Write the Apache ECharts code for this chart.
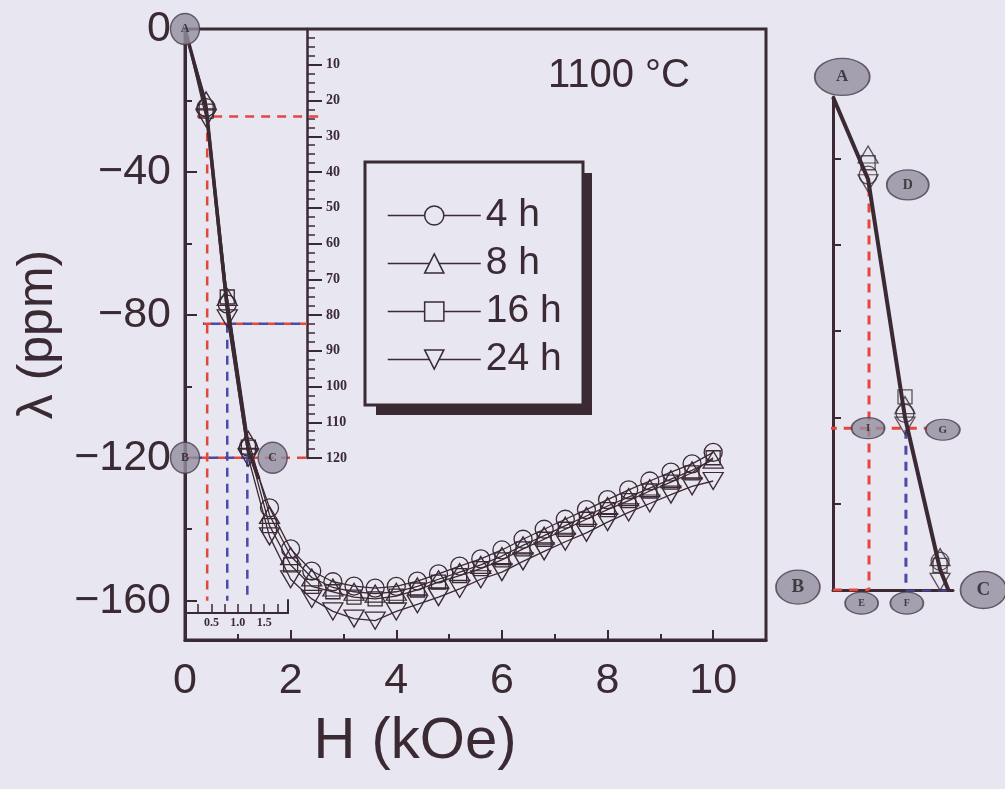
<!DOCTYPE html>
<html>
<head>
<meta charset="utf-8">
<script src="https://cdn.jsdelivr.net/npm/echarts@6/dist/echarts.min.js"></script>
<style>
  html, body { margin: 0; padding: 0; background: #e7e6f1; }
  #chart { width: 1005px; height: 789px; }
</style>
</head>
<body>
<div id="chart"></div>
<script>
// magnetostriction of the 1100 °C samples, one point every 0.4 kOe (first point = origin A)
const fieldH = [0, 0.4, 0.8, 1.2, 1.6, 2.0, 2.4, 2.8, 3.2, 3.6, 4.0, 4.4, 4.8, 5.2, 5.6, 6.0, 6.4, 6.8, 7.2, 7.6, 8.0, 8.4, 8.8, 9.2, 9.6, 10.0];
const lambda4h = [0, -22, -77, -117, -134, -145.5, -151.7, -154.7, -155.9, -156.5, -156, -154.5, -152.5, -150.3, -148.3, -145.8, -142.8, -140, -137.2, -134.5, -131.7, -129, -126.5, -124, -121.7, -118.5];
const lambda8h = [0, -20, -75, -115, -136, -147.5, -153.5, -156.3, -157.5, -158, -157.5, -156, -154, -152, -150, -147.5, -144.5, -141.8, -139, -136.3, -133.5, -131, -128.5, -126, -123.5, -120.5];
const lambda16h = [0, -23, -75, -117, -139, -150, -156, -157.5, -159, -159.5, -158.7, -157, -154.8, -153, -151, -148.6, -145.5, -142.8, -140, -137.2, -134.5, -132, -129.3, -126.8, -124.2, -120];
const lambda24h = [0, -25, -81, -120, -142, -154, -159.5, -163, -165, -165.6, -163, -161, -159, -156.7, -154, -152, -149, -146.2, -143.5, -141, -138, -135.3, -132.8, -130.3, -128, -126.5];
const seriesNames = ['4 h', '8 h', '16 h', '24 h'];

// thick steep segment A -> C
const steepH = [0, 0.4, 0.8, 1.2, 1.4];
const steepL = [0, -22, -78, -118, -126];

// construction lines in the main plot
const redDashes = [
  [[0.23, -24.5], [2.55, -24.5]],
  [[0.42, -24.5], [0.42, -160]],
  [[0.34, -82.5], [2.31, -82.5]],
  [[0, -120], [2.31, -120]]
];
const blueDashes = [
  [[0.34, -82.5], [2.31, -82.5]],
  [[0.8, -82.5], [0.8, -160]],
  [[1.18, -120], [1.18, -160]],
  [[0, -120], [1.3, -120]]
];
const mainPoints = [[0, 0, 'A'], [0, -120, 'B'], [1.66, -120, 'C']];

// tick labels
const xLabels = [0, 2, 4, 6, 8, 10];
const xMinor = [1, 3, 5, 7, 9];
const yLabels = [0, -40, -80, -120, -160];
const yMajor = [-40, -80, -120, -160];
const yMinor = [-20, -60, -100, -140];
const insetLabels = [10, 20, 30, 40, 50, 60, 70, 80, 90, 100, 110, 120];
const insetHLabels = [0.5, 1.0, 1.5];
const insetHTicks = [0.25, 0.5, 0.75, 1.0, 1.25, 1.5, 1.75];

// schematic on the right (own coordinates)
const schemaPathH = [0, 0.38, 0.78, 1.16, 1.25];
const schemaPathL = [0, -20, -78, -115, -120];
const schemaH = [0.38, 0.78, 1.16];
const schema4h = [-19, -77, -113];
const schema8h = [-14, -75, -112];
const schema16h = [-16, -73, -114];
const schema24h = [-21, -80, -118];
const schemaTicks = [-15, -36, -57, -78, -99];
const schemaRed = [
  [[0.39, -22], [0.39, -120]],
  [[-0.23, -80.6], [1.02, -80.6]],
  [[0, -120], [0.39, -120]]
];
const schemaBlue = [
  [[0.79, -81], [0.79, -120]],
  [[0.79, -120.3], [1.3, -120.3]]
];
const schemaPoints = [
  [0.1, 4.9, 'A', 55, 37, 17],
  [0.81, -21.4, 'D', 42, 30, 14],
  [0.38, -80.6, 'I', 33, 21, 11],
  [1.19, -81, 'G', 34, 21, 11],
  [-0.38, -119.3, 'B', 44, 34, 19],
  [1.63, -120, 'C', 46, 37, 19],
  [0.31, -123.2, 'E', 33, 22, 10],
  [0.8, -123.2, 'F', 33, 22, 10]
];

const dark = '#3b2a33';
const bg = '#e7e6f1';
const red = '#e5473b';
const blue = '#4b4aa6';
const sans = 'Liberation Sans';
const serif = 'Liberation Serif';

const symbols = [
  { symbol: 'circle', size: 18, rotate: 0 },
  { symbol: 'triangle', size: [20, 17], rotate: 0 },
  { symbol: 'rect', size: 14, rotate: 0 },
  { symbol: 'triangle', size: [20, 17], rotate: 180 }
];
const allLambda = [lambda4h, lambda8h, lambda16h, lambda24h];
const schemaLambda = [schema4h, schema8h, schema16h, schema24h];

const chart = echarts.init(document.getElementById('chart'));

const series = [];

// dashed construction lines (main)
redDashes.forEach(seg => series.push({
  type: 'line', xAxisIndex: 0, yAxisIndex: 0, data: seg, symbol: 'none', silent: true, z: 1,
  lineStyle: { color: red, width: 2.5, type: [9, 7] }
}));
blueDashes.forEach(seg => series.push({
  type: 'line', xAxisIndex: 0, yAxisIndex: 0, data: seg, symbol: 'none', silent: true, z: 1,
  lineStyle: { color: blue, width: 2.5, type: [9, 7], dashOffset: seg[0][1] === seg[1][1] ? 8 : 0 }
}));

series.push({
  type: 'line', xAxisIndex: 0, yAxisIndex: 0, symbol: 'none', silent: true, z: 2,
  data: steepH.map((h, i) => [h, steepL[i]]),
  lineStyle: { color: dark, width: 3.5 }
});

allLambda.forEach((vals, s) => {
  series.push({
    name: seriesNames[s],
    type: 'line', xAxisIndex: 0, yAxisIndex: 0,
    data: fieldH.map((h, i) => i === 0 ? { value: [h, vals[i]], symbol: 'none' } : [h, vals[i]]),
    symbol: symbols[s].symbol,
    symbolSize: symbols[s].size,
    symbolRotate: symbols[s].rotate,
    showAllSymbol: true,
    z: 3,
    lineStyle: { color: dark, width: 1.3 },
    itemStyle: { color: 'transparent', borderColor: dark, borderWidth: 1.3 }
  });
});

series.push({
  type: 'scatter', xAxisIndex: 0, yAxisIndex: 0, clip: false, z: 6, silent: true,
  data: mainPoints,
  symbol: 'circle', symbolSize: [29, 31],
  itemStyle: { color: '#958ea0', borderColor: '#4a3d4a', borderWidth: 1.5 },
  label: {
    show: true, position: 'inside', formatter: p => p.value[2],
    fontFamily: serif, fontWeight: 'bold', fontSize: 12, color: '#2a2026'
  }
});

// schematic
schemaRed.forEach(seg => series.push({
  type: 'line', xAxisIndex: 4, yAxisIndex: 5, data: seg, symbol: 'none', silent: true, z: 1,
  lineStyle: { color: red, width: 3, type: [9, 7] }
}));
schemaBlue.forEach(seg => series.push({
  type: 'line', xAxisIndex: 4, yAxisIndex: 5, data: seg, symbol: 'none', silent: true, z: 1,
  lineStyle: { color: blue, width: 3, type: [9, 7] }
}));
series.push({
  type: 'line', xAxisIndex: 4, yAxisIndex: 5, symbol: 'none', silent: true, z: 2,
  data: schemaPathH.map((h, i) => [h, schemaPathL[i]]),
  lineStyle: { color: dark, width: 4 }
});
schemaLambda.forEach((vals, s) => series.push({
  type: 'scatter', xAxisIndex: 4, yAxisIndex: 5, silent: true, z: 3,
  data: schemaH.map((h, i) => [h, vals[i]]),
  symbol: symbols[s].symbol, symbolSize: symbols[s].size, symbolRotate: symbols[s].rotate,
  itemStyle: { color: 'transparent', borderColor: dark, borderWidth: 1.3 }
}));
schemaPoints.forEach(p => series.push({
  type: 'scatter', xAxisIndex: 4, yAxisIndex: 5, clip: false, z: 6, silent: true,
  data: [[p[0], p[1], p[2]]],
  symbol: 'circle', symbolSize: [p[3], p[4]],
  itemStyle: { color: '#958ea0', borderColor: '#4a3d4a', borderWidth: 1.5 },
  label: {
    show: true, position: 'inside', formatter: v => v.value[2],
    fontFamily: serif, fontWeight: 'bold', fontSize: p[5], color: '#2a2026'
  }
}));

const axisLineStyle = { color: dark, width: 3 };
const hidden = { show: false };

chart.setOption({
  backgroundColor: bg,
  animation: false,
  grid: [
    { left: 185, top: 29, width: 581, height: 611, show: true, borderColor: dark, borderWidth: 3, backgroundColor: 'transparent' },
    { left: 306, top: 29, width: 1, height: 429 },
    { left: 185, top: 600, width: 103, height: 13 },
    { left: 833, top: 97, width: 120, height: 493 }
  ],
  xAxis: [
    {
      gridIndex: 0, type: 'value', min: 0, max: 11, position: 'bottom',
      axisLine: { onZero: false, lineStyle: axisLineStyle },
      axisTick: { inside: true, length: 10, customValues: xLabels.slice(1), lineStyle: { color: dark, width: 2 } },
      axisLabel: { customValues: xLabels, margin: 20, fontFamily: sans, fontSize: 43, color: dark },
      splitLine: hidden
    },
    {
      gridIndex: 0, type: 'value', min: 0, max: 11, position: 'bottom',
      axisLine: { show: false, onZero: false }, axisLabel: hidden, splitLine: hidden,
      axisTick: { inside: true, length: 6, customValues: xMinor, lineStyle: { color: dark, width: 2 } }
    },
    { gridIndex: 1, type: 'value', min: 0, max: 1, show: false },
    {
      gridIndex: 2, type: 'value', min: 0, max: 1.95, position: 'bottom',
      axisLine: { onZero: false, lineStyle: { color: dark, width: 2 } },
      axisTick: { inside: true, length: 9, customValues: insetHTicks, lineStyle: { color: dark, width: 1.5 } },
      axisLabel: { customValues: insetHLabels, margin: 4, formatter: v => v.toFixed(1), fontFamily: serif, fontWeight: 'bold', fontSize: 12, color: dark },
      splitLine: hidden
    },
    {
      gridIndex: 3, type: 'value', min: 0, max: 1.3, position: 'bottom',
      axisLine: { onZero: false, lineStyle: axisLineStyle }, axisTick: hidden, axisLabel: hidden, splitLine: hidden
    }
  ],
  yAxis: [
    {
      gridIndex: 0, type: 'value', min: -171, max: 0, position: 'left',
      name: 'λ (ppm)', nameLocation: 'middle', nameGap: 116, nameRotate: 90,
      nameTextStyle: { fontFamily: sans, fontSize: 50, color: dark },
      axisLine: { onZero: false, lineStyle: axisLineStyle },
      axisTick: { inside: true, length: 12, customValues: yMajor, lineStyle: { color: dark, width: 2 } },
      axisLabel: { customValues: yLabels, margin: 14, formatter: v => String(v).replace('-', '\u2212'), fontFamily: sans, fontSize: 43, color: dark },
      splitLine: hidden
    },
    {
      gridIndex: 0, type: 'value', min: -171, max: 0, position: 'left',
      axisLine: { show: false, onZero: false }, axisLabel: hidden, splitLine: hidden,
      axisTick: { inside: true, length: 7, customValues: yMinor, lineStyle: { color: dark, width: 2 } }
    },
    {
      gridIndex: 1, type: 'value', min: 0, max: 120, inverse: true, position: 'right',
      axisLine: { onZero: false, lineStyle: { color: dark, width: 2.5 } },
      axisTick: { length: 15, customValues: insetLabels, lineStyle: { color: dark, width: 2 } },
      axisLabel: { customValues: insetLabels, margin: 19, fontFamily: serif, fontWeight: 'bold', fontSize: 14, color: dark },
      splitLine: hidden
    },
    {
      gridIndex: 1, type: 'value', min: 0, max: 120, inverse: true, position: 'right',
      axisLine: { show: false, onZero: false }, axisLabel: hidden, splitLine: hidden,
      axisTick: { length: 8, customValues: insetLabels.flatMap(v => [v - 7.5, v - 5, v - 2.5]), lineStyle: { color: dark, width: 1.5 } }
    },
    {
      gridIndex: 2, type: 'value', min: 0, max: 1, position: 'right',
      axisLine: { onZero: false, lineStyle: { color: dark, width: 2 } }, axisTick: hidden, axisLabel: hidden, splitLine: hidden
    },
    {
      gridIndex: 3, type: 'value', min: -120, max: 0, position: 'left',
      axisLine: { onZero: false, lineStyle: axisLineStyle },
      axisTick: { inside: true, length: 8, customValues: schemaTicks, lineStyle: { color: dark, width: 2 } },
      axisLabel: hidden, splitLine: hidden
    }
  ],
  legend: {
    left: 382, top: 191, orient: 'vertical', itemWidth: 93, itemHeight: 24, itemGap: 9,
    textStyle: { fontFamily: sans, fontSize: 39, color: dark },
    data: seriesNames.map(n => ({ name: n, itemStyle: { color: bg, borderColor: dark, borderWidth: 1.5 }, lineStyle: { color: dark, width: 1.5 } })),
    selectedMode: false
  },
  graphic: [
    { type: 'rect', z: 3, shape: { x: 376, y: 173, width: 216, height: 242 }, style: { fill: dark } },
    { type: 'rect', z: 3, shape: { x: 365, y: 162, width: 218, height: 243 }, style: { fill: bg, stroke: dark, lineWidth: 3 } },
    { type: 'text', z: 5, x: 619, y: 76, style: { text: '1100 \u00b0C', fontFamily: sans, fontSize: 40, fill: dark, align: 'center', verticalAlign: 'middle' } },
    { type: 'text', z: 5, x: 415, y: 742, style: { text: 'H (kOe)', fontFamily: sans, fontSize: 58, fill: dark, align: 'center', verticalAlign: 'middle' } }
  ],
  series: series
});
</script>
</body>
</html>
